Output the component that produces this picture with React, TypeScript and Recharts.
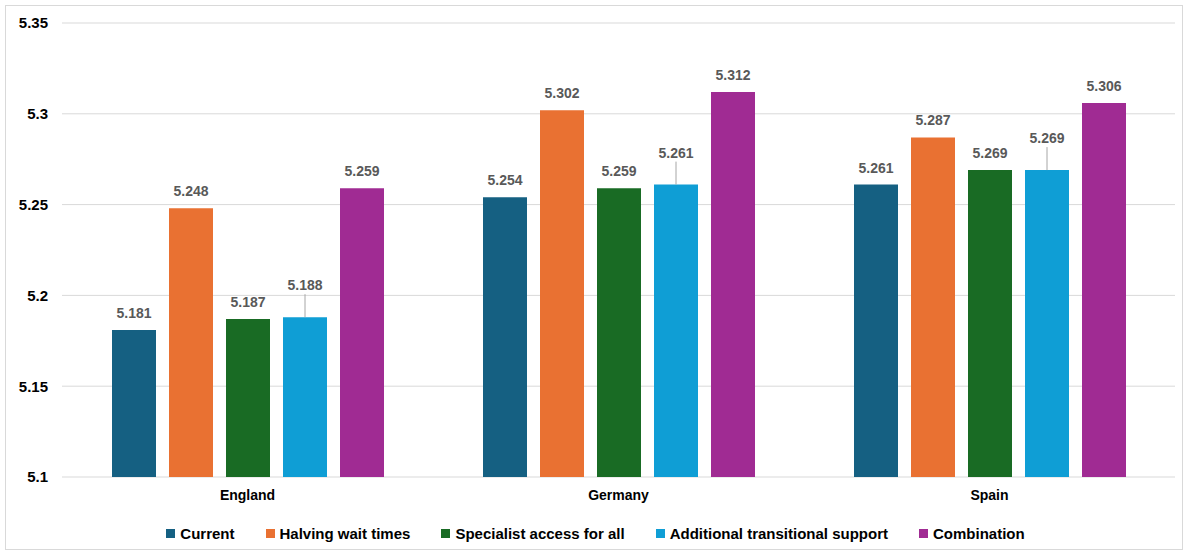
import React from "react";
import {
  BarChart,
  Bar,
  XAxis,
  YAxis,
  CartesianGrid,
  Legend,
  LabelList,
} from "recharts";

const countries = ["England", "Germany", "Spain"];
const current = [5.181, 5.254, 5.261];
const halving = [5.248, 5.302, 5.287];
const specialist = [5.187, 5.259, 5.269];
const transitional = [5.188, 5.261, 5.269];
const combination = [5.259, 5.312, 5.306];
const yTicks = [5.1, 5.15, 5.2, 5.25, 5.3, 5.35];

const series = [
  { key: "current", name: "Current", color: "#156082", values: current },
  { key: "halving", name: "Halving wait times", color: "#E97132", values: halving },
  { key: "specialist", name: "Specialist access for all", color: "#196B24", values: specialist },
  { key: "transitional", name: "Additional transitional support", color: "#0F9ED5", values: transitional },
  { key: "combination", name: "Combination", color: "#A02B93", values: combination },
];

// labels that Excel pushed up with a leader line
const liftedSeries = ["transitional"];

const data = countries.map((c, i) => {
  const row: Record<string, any> = { country: c };
  series.forEach((s) => (row[s.key] = s.values[i]));
  return row;
});

const FONT = "'Liberation Sans', Arial, sans-serif";

function makeLabel(lifted: boolean) {
  return (props: any) => {
    const { x, y, width, value } = props;
    const cx = x + width / 2;
    const ty = lifted ? y - 32 : y - 17;
    return (
      <g>
        {lifted && (
          <line x1={cx} x2={cx} y1={ty + 9} y2={y} stroke="#a6a6a6" strokeWidth={1} />
        )}
        <text
          x={cx}
          y={ty}
          textAnchor="middle"
          dominantBaseline="central"
          fill="#595959"
          fontSize={14}
          fontWeight="bold"
          fontFamily={FONT}
        >
          {value.toFixed(3)}
        </text>
      </g>
    );
  };
}

function LegendContent() {
  return (
    <div
      style={{
        height: 44,
        paddingTop: 13,
        boxSizing: "border-box",
        display: "flex",
        justifyContent: "center",
        gap: 31,
        fontFamily: FONT,
        fontWeight: "bold",
        fontSize: 15,
        color: "#000",
        lineHeight: "18px",
        paddingLeft: 10,
      }}
    >
      {series.map((s) => (
        <span key={s.key} style={{ display: "flex", alignItems: "center" }}>
          <span
            style={{
              display: "inline-block",
              width: 9,
              height: 9,
              background: s.color,
              marginRight: 5,
            }}
          />
          {s.name}
        </span>
      ))}
    </div>
  );
}

export default function App() {
  return (
    <div
      style={{
        position: "absolute",
        left: 5,
        top: 5,
        width: 1176,
        height: 543,
        border: "1px solid #d9d9d9",
        background: "#fff",
      }}
    >
      <BarChart
        width={1176}
        height={543}
        data={data}
        margin={{ top: 17, right: 7, left: 0, bottom: 0 }}
        barSize={44}
        barGap={13}
      >
        <CartesianGrid vertical={false} stroke="#d9d9d9" />
        <XAxis
          dataKey="country"
          axisLine={false}
          tickLine={false}
          height={28}
          tickMargin={7}
          tick={{ fill: "#000", fontSize: 14, fontWeight: "bold", fontFamily: FONT }}
        />
        <YAxis
          domain={[5.1, 5.35]}
          ticks={yTicks}
          width={56}
          axisLine={false}
          tickLine={false}
          tickMargin={8}
          allowDataOverflow
          tickFormatter={(v: number) => String(Number(v.toFixed(2)))}
          tick={{ fill: "#000", fontSize: 15, fontWeight: "bold", fontFamily: FONT }}
        />
        <Legend verticalAlign="bottom" content={<LegendContent />} />
        {series.map((s) => (
          <Bar
            key={s.key}
            dataKey={s.key}
            name={s.name}
            fill={s.color}
            isAnimationActive={false}
          >
            <LabelList
              dataKey={s.key}
              content={makeLabel(liftedSeries.includes(s.key))}
            />
          </Bar>
        ))}
      </BarChart>
    </div>
  );
}
